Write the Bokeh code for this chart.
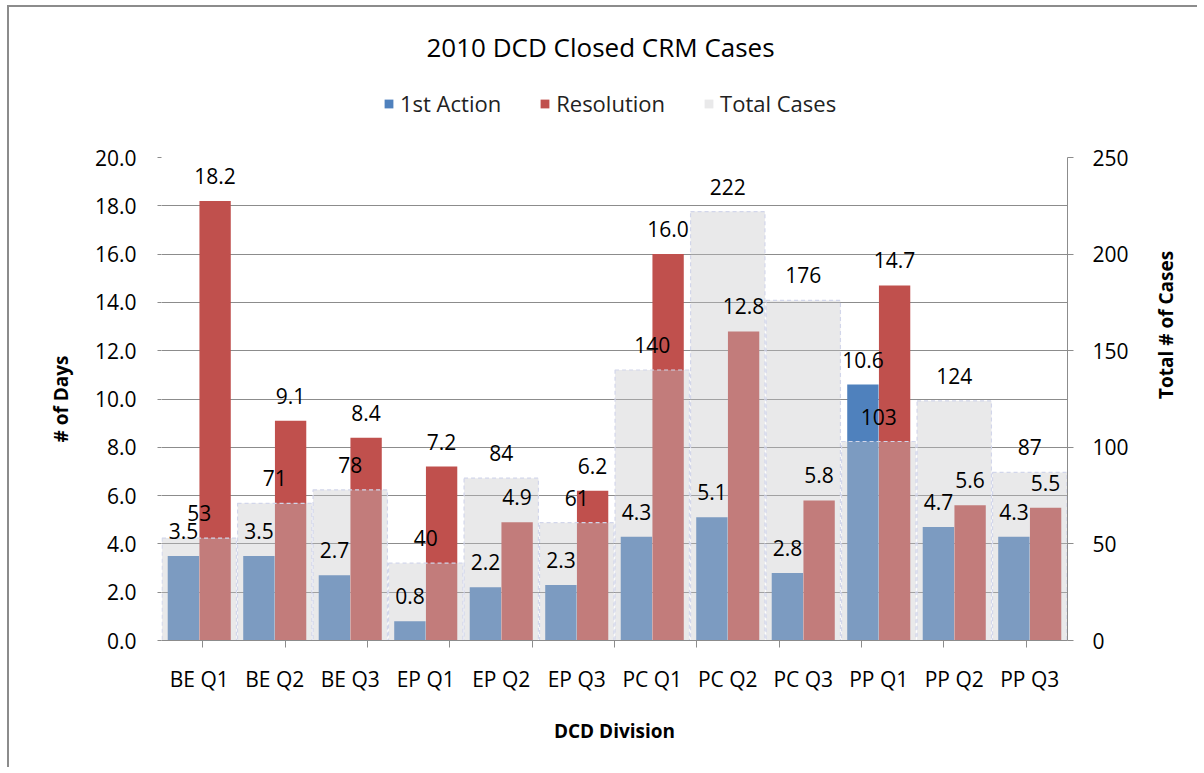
import math
from bokeh.plotting import figure
from bokeh.layouts import column
from bokeh.models import (FactorRange, Range1d, LinearAxis, CategoricalAxis, FixedTicker,
                          NumeralTickFormatter, Legend, LegendItem, ColumnDataSource, Grid)
from bokeh.transform import dodge
from bokeh.core.properties import value
from bokeh.embed import file_html
from bokeh.resources import INLINE

# ---- data ----
categories = ["BE Q1", "BE Q2", "BE Q3", "EP Q1", "EP Q2", "EP Q3",
              "PC Q1", "PC Q2", "PC Q3", "PP Q1", "PP Q2", "PP Q3"]
first_action = [3.5, 3.5, 2.7, 0.8, 2.2, 2.3, 4.3, 5.1, 2.8, 10.6, 4.7, 4.3]
resolution = [18.2, 9.1, 8.4, 7.2, 4.9, 6.2, 16.0, 12.8, 5.8, 14.7, 5.6, 5.5]
total_cases = [53, 71, 78, 40, 84, 61, 140, 222, 176, 103, 124, 87]
days_ticks = [0, 2, 4, 6, 8, 10, 12, 14, 16, 18, 20]
cases_ticks = [0, 50, 100, 150, 200, 250]
series_names = ["1st Action", "Resolution", "Total Cases"]

FONT = "Open Sans"
BLUE = "#4f81bd"
RED = "#c0504d"
GRAY_FILL = "#c4c4c8"
GRAY_ALPHA = 0.38
GRID = "#8c8c8c"
W = 1188

src = ColumnDataSource(dict(
    cat=categories, first=first_action, res=resolution, total=total_cases,
    first_lbl=[f"{v:.1f}" for v in first_action],
    res_lbl=[f"{v:.1f}" for v in resolution],
    total_lbl=[str(v) for v in total_cases],
))

# ---------------- header: title + legend ----------------
top = figure(width=W, height=123, x_range=Range1d(0, 1), y_range=Range1d(0, 1),
             output_backend="svg", toolbar_location=None,
             x_axis_location=None, y_axis_location=None,
             min_border_left=152, min_border_right=130, min_border_top=73, min_border_bottom=0)
top.grid.visible = False
top.outline_line_color = None
top.title.text = "2010 DCD Closed CRM Cases"
top.title.align = "left"
top.title.offset = 265
top.title.standoff = 38
top.title.text_font = FONT
top.title.text_font_size = "26px"
top.title.text_font_style = "normal"
top.title.text_color = "#000000"

# legend keys: zero-height proxies that only lend their style to the legend
key_src = ColumnDataSource(dict(x=[0.5], top=[0.0]))
kb = top.vbar(x="x", top="top", width=0.1, source=key_src, fill_color=BLUE, line_color=None)
kr = top.vbar(x="x", top="top", width=0.1, source=key_src, fill_color=RED, line_color=None)
kt = top.vbar(x="x", top="top", width=0.1, source=key_src, fill_color=GRAY_FILL,
              fill_alpha=GRAY_ALPHA, line_color=None)
legend = Legend(items=[LegendItem(label=series_names[0], renderers=[kb], index=0),
                       LegendItem(label=series_names[1], renderers=[kr], index=0),
                       LegendItem(label=series_names[2], renderers=[kt], index=0)],
                orientation="horizontal", location=(222, 12),
                border_line_color=None, background_fill_alpha=0,
                label_text_font=FONT, label_text_font_size="22px", label_text_color="#222222",
                glyph_width=11, glyph_height=11, label_standoff=6, spacing=38,
                padding=0, margin=0)
top.add_layout(legend)

# ---------------- main chart ----------------
p = figure(x_range=FactorRange(*categories), y_range=Range1d(0, 20),
           width=W, height=637, output_backend="svg", toolbar_location=None,
           x_axis_location=None, y_axis_location=None,
           min_border_left=152, min_border_right=130, min_border_top=27, min_border_bottom=127)
p.title_location = None
p.extra_y_ranges = {"cases": Range1d(0, 250)}
# helper factor range whose factor centres fall on the category boundaries
edge_factors = [f"edge{i}" for i in range(len(categories) + 1)]
p.extra_x_ranges = {"edges": FactorRange(factors=edge_factors, range_padding=-1,
                                         range_padding_units="absolute")}
p.outline_line_color = None
p.grid.visible = False

p.add_layout(Grid(dimension=1, ticker=FixedTicker(ticks=days_ticks),
                  grid_line_color=GRID, grid_line_width=1))

# left axis
left = LinearAxis(ticker=FixedTicker(ticks=days_ticks),
                  formatter=NumeralTickFormatter(format="0.0"),
                  axis_label="# of Days")
left.axis_line_color = None
left.major_tick_line_color = GRID
left.major_tick_out = 4
left.major_tick_in = 0
left.minor_tick_line_color = None
left.major_label_standoff = 21
left.major_label_text_font = FONT
left.major_label_text_font_size = "21px"
left.major_label_text_color = "#000000"
left.axis_label_text_font = FONT
left.axis_label_text_font_size = "19px"
left.axis_label_text_font_style = "bold"
left.axis_label_text_color = "#000000"
left.axis_label_standoff = 18
p.add_layout(left, "left")

# right axis
right = LinearAxis(y_range_name="cases", ticker=FixedTicker(ticks=cases_ticks),
                   axis_label="Total # of Cases")
right.axis_line_color = GRID
right.major_tick_line_color = GRID
right.major_tick_out = 6
right.major_tick_in = 0
right.minor_tick_line_color = None
right.major_label_standoff = 19
right.major_label_text_font = FONT
right.major_label_text_font_size = "21px"
right.major_label_text_color = "#000000"
right.axis_label_text_font = FONT
right.axis_label_text_font_size = "19px"
right.axis_label_text_font_style = "bold"
right.axis_label_text_color = "#000000"
right.axis_label_standoff = 34
right.axis_label_orientation = math.pi / 2
p.add_layout(right, "right")

# bottom: tick-only axis at category edges, then category labels
edge_axis = CategoricalAxis(x_range_name="edges")
edge_axis.axis_line_color = GRID
edge_axis.major_tick_line_color = GRID
edge_axis.major_tick_out = 7
edge_axis.major_tick_in = 0
edge_axis.minor_tick_line_color = None
edge_axis.major_label_text_font_size = "0px"
edge_axis.major_label_text_alpha = 0
edge_axis.major_label_standoff = 0
p.add_layout(edge_axis, "below")

cat_axis = CategoricalAxis(axis_label="DCD Division")
cat_axis.axis_line_color = None
cat_axis.major_tick_line_color = None
cat_axis.minor_tick_line_color = None
cat_axis.major_label_standoff = 11
cat_axis.major_label_text_font = FONT
cat_axis.major_label_text_font_size = "21px"
cat_axis.major_label_text_color = "#000000"
cat_axis.axis_label_text_font = FONT
cat_axis.axis_label_text_font_size = "19px"
cat_axis.axis_label_text_font_style = "bold"
cat_axis.axis_label_text_color = "#000000"
cat_axis.axis_label_standoff = 22
p.add_layout(cat_axis, "below")

# bars
p.vbar(x=dodge("cat", -0.21, range=p.x_range), top="first", width=0.415,
       source=src, fill_color=BLUE, line_color=None)
p.vbar(x=dodge("cat", 0.21, range=p.x_range), top="res", width=0.415,
       source=src, fill_color=RED, line_color=None)
p.vbar(x="cat", top="total", width=0.985, y_range_name="cases", source=src,
       fill_color=GRAY_FILL, fill_alpha=GRAY_ALPHA,
       line_color="#d2d6ea", line_dash="4 3", line_width=1.2)

# data labels
lbl_kw = dict(source=src, text_align="center", text_baseline="middle", y_offset=-25,
              text_font=value(FONT), text_font_size="21px", text_color="#000000")
p.text(x=dodge("cat", -0.21, range=p.x_range), y="first", text="first_lbl", **lbl_kw)
p.text(x=dodge("cat", 0.21, range=p.x_range), y="res", text="res_lbl", **lbl_kw)
p.text(x="cat", y="total", text="total_lbl", y_range_name="cases", **lbl_kw)

layout = column(top, p, spacing=0)
layout.margin = (5, 0, 0, 7)
layout.styles = {"border-left": "2px solid #8c8c8c", "border-top": "2px solid #8c8c8c"}
open("out.html", "w").write(file_html(layout, INLINE))
